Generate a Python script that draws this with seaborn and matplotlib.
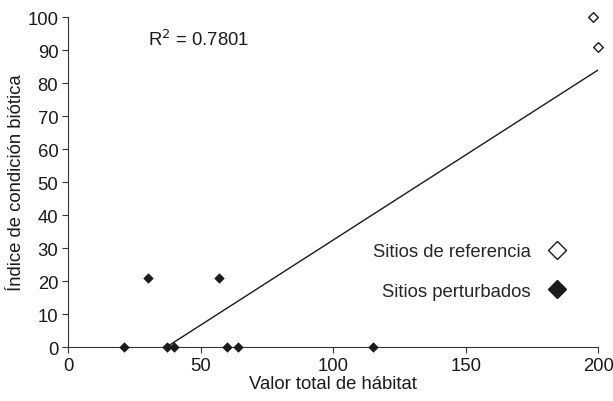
import matplotlib
matplotlib.use("Agg")
import matplotlib.pyplot as plt
from matplotlib.lines import Line2D
import seaborn as sns
import numpy as np
import pandas as pd

# data
ref_x = [198, 200]
ref_y = [100, 91]
pert_x = [21, 30, 37.5, 40, 57, 60, 64, 115]
pert_y = [0, 21, 0, 0, 21, 0, 0, 0]
x_ticks = [0, 50, 100, 150, 200]
y_ticks = [0, 10, 20, 30, 40, 50, 60, 70, 80, 90, 100]
r2_label = "R$^2$ = 0.7801"

FS = 13.3

sns.set_style("ticks")
plt.rcParams["font.family"] = ["Liberation Sans", "DejaVu Sans"]
plt.rcParams["font.size"] = FS

all_df = pd.DataFrame({"x": ref_x + pert_x, "y": ref_y + pert_y})

fig = plt.figure(figsize=(6.13, 4.02), dpi=100)
ax = fig.add_axes([0.111, 0.134, 0.865, 0.821])

# linear trend over all sites, clipped at y = 0 by the axis
sns.regplot(data=all_df, x="x", y="y", ci=None, scatter=False, truncate=True,
            line_kws={"color": "#1a1a1a", "lw": 1.0}, ax=ax)
sns.scatterplot(x=pert_x, y=pert_y, marker="D", s=24, color="#1a1a1a",
                edgecolor="#1a1a1a", ax=ax, zorder=4, clip_on=False)
sns.scatterplot(x=ref_x, y=ref_y, marker="D", s=24, color="white",
                edgecolor="#1a1a1a", linewidth=1.0, ax=ax, zorder=4, clip_on=False)

ax.set_xlim(0, 200)
ax.set_ylim(0, 100)
ax.set_xticks(x_ticks)
ax.set_yticks(y_ticks)
ax.tick_params(labelsize=FS, color="#333333", labelcolor="#1a1a1a", length=4, pad=3)
for s in ["left", "bottom"]:
    ax.spines[s].set_color("#333333")
sns.despine(ax=ax)
ax.set_xlabel("Valor total de hábitat", fontsize=FS, color="#1a1a1a", labelpad=1)
ax.set_ylabel("Índice de condición biótica", fontsize=FS, color="#1a1a1a", labelpad=2)

ax.text(30, 93.5, r2_label, fontsize=FS, color="#1a1a1a", va="center")

handles = [
    Line2D([], [], ls="none", marker="D", ms=9, mfc="white", mec="#1a1a1a", mew=1.0),
    Line2D([], [], ls="none", marker="D", ms=9, mfc="#1a1a1a", mec="#1a1a1a"),
]
ax.legend(handles, ["Sitios de referencia", "Sitios perturbados"],
          loc="center right", bbox_to_anchor=(0.989, 0.229), frameon=False,
          markerfirst=False, fontsize=FS, labelspacing=1.2,
          handlelength=2.0, handletextpad=0.45)

fig.savefig("out.png", dpi=100)
